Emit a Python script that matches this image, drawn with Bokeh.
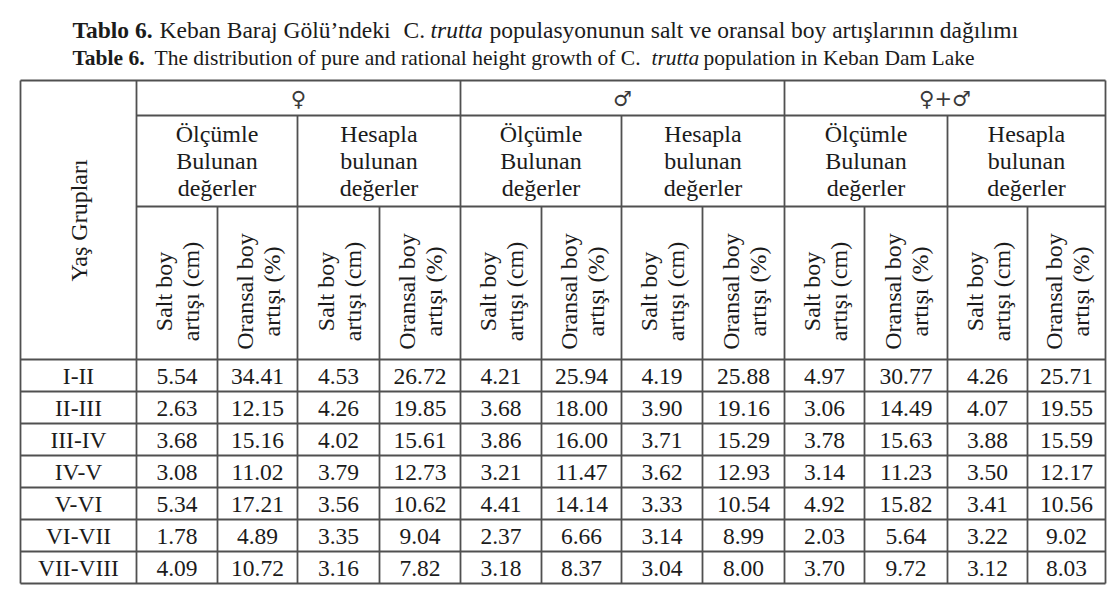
import math
from bokeh.plotting import figure
from bokeh.models import ColumnDataSource, Range1d
from bokeh.core.properties import value
from bokeh.embed import file_html
from bokeh.resources import INLINE

# ---------------- data ----------------
age_groups = ["I-II", "II-III", "III-IV", "IV-V", "V-VI", "VI-VII", "VII-VIII"]

female_measured_cm = [5.54, 2.63, 3.68, 3.08, 5.34, 1.78, 4.09]
female_measured_pct = [34.41, 12.15, 15.16, 11.02, 17.21, 4.89, 10.72]
female_calc_cm = [4.53, 4.26, 4.02, 3.79, 3.56, 3.35, 3.16]
female_calc_pct = [26.72, 19.85, 15.61, 12.73, 10.62, 9.04, 7.82]

male_measured_cm = [4.21, 3.68, 3.86, 3.21, 4.41, 2.37, 3.18]
male_measured_pct = [25.94, 18.00, 16.00, 11.47, 14.14, 6.66, 8.37]
male_calc_cm = [4.19, 3.90, 3.71, 3.62, 3.33, 3.14, 3.04]
male_calc_pct = [25.88, 19.16, 15.29, 12.93, 10.54, 8.99, 8.00]

all_measured_cm = [4.97, 3.06, 3.78, 3.14, 4.92, 2.03, 3.70]
all_measured_pct = [30.77, 14.49, 15.63, 11.23, 15.82, 5.64, 9.72]
all_calc_cm = [4.26, 4.07, 3.88, 3.50, 3.41, 3.22, 3.12]
all_calc_pct = [25.71, 19.55, 15.59, 12.17, 10.56, 9.02, 8.03]

groups = ["♀", "♂", "♀+♂"]
subgroups = [["Ölçümle", "Bulunan", "değerler"], ["Hesapla", "bulunan", "değerler"]]
col_headers = [["Salt boy", "artışı (cm)"], ["Oransal boy", "artışı (%)"]]
row_header = "Yaş Grupları"

title_tr = [("Tablo 6.", "bold"), ("Keban Baraj Gölü’ndeki", "normal"), ("C.", "normal"),
            ("trutta", "italic"), ("populasyonunun salt ve oransal boy artışlarının dağılımı", "normal")]
title_en = [("Table 6.", "bold"), ("The distribution of pure and rational height growth of C.", "normal"),
            ("trutta", "italic"), ("population in Keban Dam Lake", "normal")]

columns = [female_measured_cm, female_measured_pct, female_calc_cm, female_calc_pct,
           male_measured_cm, male_measured_pct, male_calc_cm, male_calc_pct,
           all_measured_cm, all_measured_pct, all_calc_cm, all_calc_pct]

# ---------------- layout ----------------
col_edges = [20, 136, 217, 297, 379, 460, 541, 621, 702, 784, 864, 947, 1027, 1105]
head_edges = [80, 115, 206, 359]
row_h = 32.0
body_top = head_edges[-1]
row_edges = [body_top + row_h * k for k in range(len(age_groups) + 1)]
table_bottom = row_edges[-1]

FONT = value("Liberation Serif")
TXT = "#1b1b1b"
LINE = "#505050"
LW = 1.8
W, H = 1108, 588

p = figure(width=W, height=H, output_backend="svg", toolbar_location=None,
           x_range=Range1d(0, W), y_range=Range1d(H, 0), min_border=0)
p.axis.visible = False
p.grid.visible = False
p.outline_line_color = None
p.background_fill_color = "white"

# ---------- titles ----------
tr_x = [72, 159, 403, 430, 489]
en_x = [72, 154, 651, 703]
for (txt, style), x in zip(title_tr, tr_x):
    p.text(x=[x], y=[29.5], text=[txt], text_font=FONT, text_font_style=style,
           text_font_size="23.5px", text_baseline="alphabetic", text_align="left", text_color=TXT)
for (txt, style), x in zip(title_en, en_x):
    p.text(x=[x], y=[57.5], text=[txt], text_font=FONT, text_font_style=style,
           text_font_size="21.5px", text_baseline="alphabetic", text_align="left", text_color=TXT)

# ---------- grid lines ----------
x0s, y0s, x1s, y1s = [], [], [], []
def seg(a, b, c, d):
    x0s.append(a); y0s.append(b); x1s.append(c); y1s.append(d)

L, R = col_edges[0], col_edges[-1]
seg(L, head_edges[0], R, head_edges[0])
seg(col_edges[1], head_edges[1], R, head_edges[1])
seg(col_edges[1], head_edges[2], R, head_edges[2])
for y in row_edges:
    seg(L, y, R, y)
for i, x in enumerate(col_edges):
    k = i - 1
    if i in (0, 1, len(col_edges) - 1) or (k % 4 == 0):
        seg(x, head_edges[0], x, table_bottom)
    elif k % 2 == 0:
        seg(x, head_edges[1], x, table_bottom)
    else:
        seg(x, head_edges[2], x, table_bottom)
p.segment(x0=x0s, y0=y0s, x1=x1s, y1=y1s, line_color=LINE, line_width=LW)

# ---------- headers ----------
p.text(x=[(col_edges[0] + col_edges[1]) / 2], y=[(head_edges[0] + body_top) / 2 + 0.5],
       text=[row_header], angle=math.pi / 2, text_font=FONT, text_font_size="24px",
       text_align="center", text_baseline="middle", text_color=TXT)

for g, name in enumerate(groups):
    cx = (col_edges[1 + 4 * g] + col_edges[5 + 4 * g]) / 2
    p.text(x=[cx], y=[(head_edges[0] + head_edges[1]) / 2 + 1], text=[name],
           text_font=value("DejaVu Sans"), text_font_size="21px",
           text_align="center", text_baseline="middle", text_color="#3a3a3a")

for g in range(3):
    for s in range(2):
        a = 1 + 4 * g + 2 * s
        cx = (col_edges[a] + col_edges[a + 2]) / 2
        cy = (head_edges[1] + head_edges[2]) / 2
        for li, line in enumerate(subgroups[s]):
            p.text(x=[cx], y=[cy + (li - 1) * 27], text=[line], text_font=FONT,
                   text_font_size="24px", text_align="center", text_baseline="middle",
                   text_color=TXT)

for j in range(12):
    cx = (col_edges[1 + j] + col_edges[2 + j]) / 2
    lines = col_headers[j % 2]
    for li, line in enumerate(lines):
        p.text(x=[cx - 13 + li * 27], y=[291], text=[line], angle=math.pi / 2,
               text_font=FONT, text_font_size="24px", text_align="center",
               text_baseline="middle", text_color=TXT)

# ---------- body ----------
xs, ys, ts = [], [], []
for i, grp in enumerate(age_groups):
    cy = (row_edges[i] + row_edges[i + 1]) / 2 + 0.5
    xs.append((col_edges[0] + col_edges[1]) / 2); ys.append(cy); ts.append(grp)
    for j, col in enumerate(columns):
        xs.append((col_edges[1 + j] + col_edges[2 + j]) / 2)
        ys.append(cy)
        ts.append(f"{col[i]:.2f}")
src = ColumnDataSource(dict(x=xs, y=ys, t=ts))
p.text(x="x", y="y", text="t", source=src, text_font=FONT, text_font_size="23.5px",
       text_align="center", text_baseline="middle", text_color=TXT)

open("out.html", "w").write(file_html(p, INLINE))
